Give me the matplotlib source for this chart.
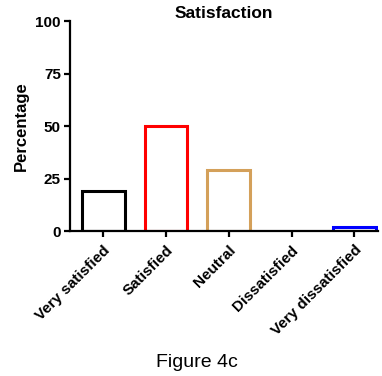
import matplotlib
matplotlib.use("Agg")
import matplotlib.pyplot as plt

categories = ["Very satisfied", "Satisfied", "Neutral", "Dissatisfied", "Very dissatisfied"]
percentages = [19.0, 50.0, 29.0, 0.0, 2.0]
edge_colors = ["#000000", "#FF0000", "#D4A05A", "#000000", "#0000FF"]
y_ticks = [0, 25, 50, 75, 100]

plt.rcParams['font.family'] = ['Liberation Sans', 'DejaVu Sans']

fig = plt.figure(figsize=(3.82, 3.76), dpi=100)
ax = fig.add_axes([0.183, 0.385, 0.807, 0.559])

x = range(len(categories))
for i, (val, col) in enumerate(zip(percentages, edge_colors)):
    if val > 0:
        ax.bar(i, val, width=0.68, facecolor="white", edgecolor=col, linewidth=2.2, zorder=2)

ax.set_xlim(-0.53, 4.38)
ax.set_ylim(0, 100)
ax.set_yticks(y_ticks)
ax.set_yticklabels([str(t) for t in y_ticks], fontweight="bold", fontsize=11)
ax.set_xticks(list(x))
ax.set_xticklabels(categories, rotation=45, ha="right", rotation_mode="anchor",
                   fontweight="bold", fontsize=11)

for side in ["top", "right"]:
    ax.spines[side].set_visible(False)
for side in ["left", "bottom"]:
    ax.spines[side].set_linewidth(1.6)
    ax.spines[side].set_zorder(3)
ax.tick_params(axis="both", direction="out", length=4.5, width=1.6, pad=2)
ax.tick_params(axis="x", pad=4)

ax.set_ylabel("Percentage", fontweight="bold", fontsize=12, labelpad=5)
ax.set_title("Satisfaction", fontweight="bold", fontsize=12.5, pad=0)

fig.text(0.515, 0.035, "Figure 4c", ha="center", va="center", fontsize=14)

fig.savefig("out.png", dpi=100)
